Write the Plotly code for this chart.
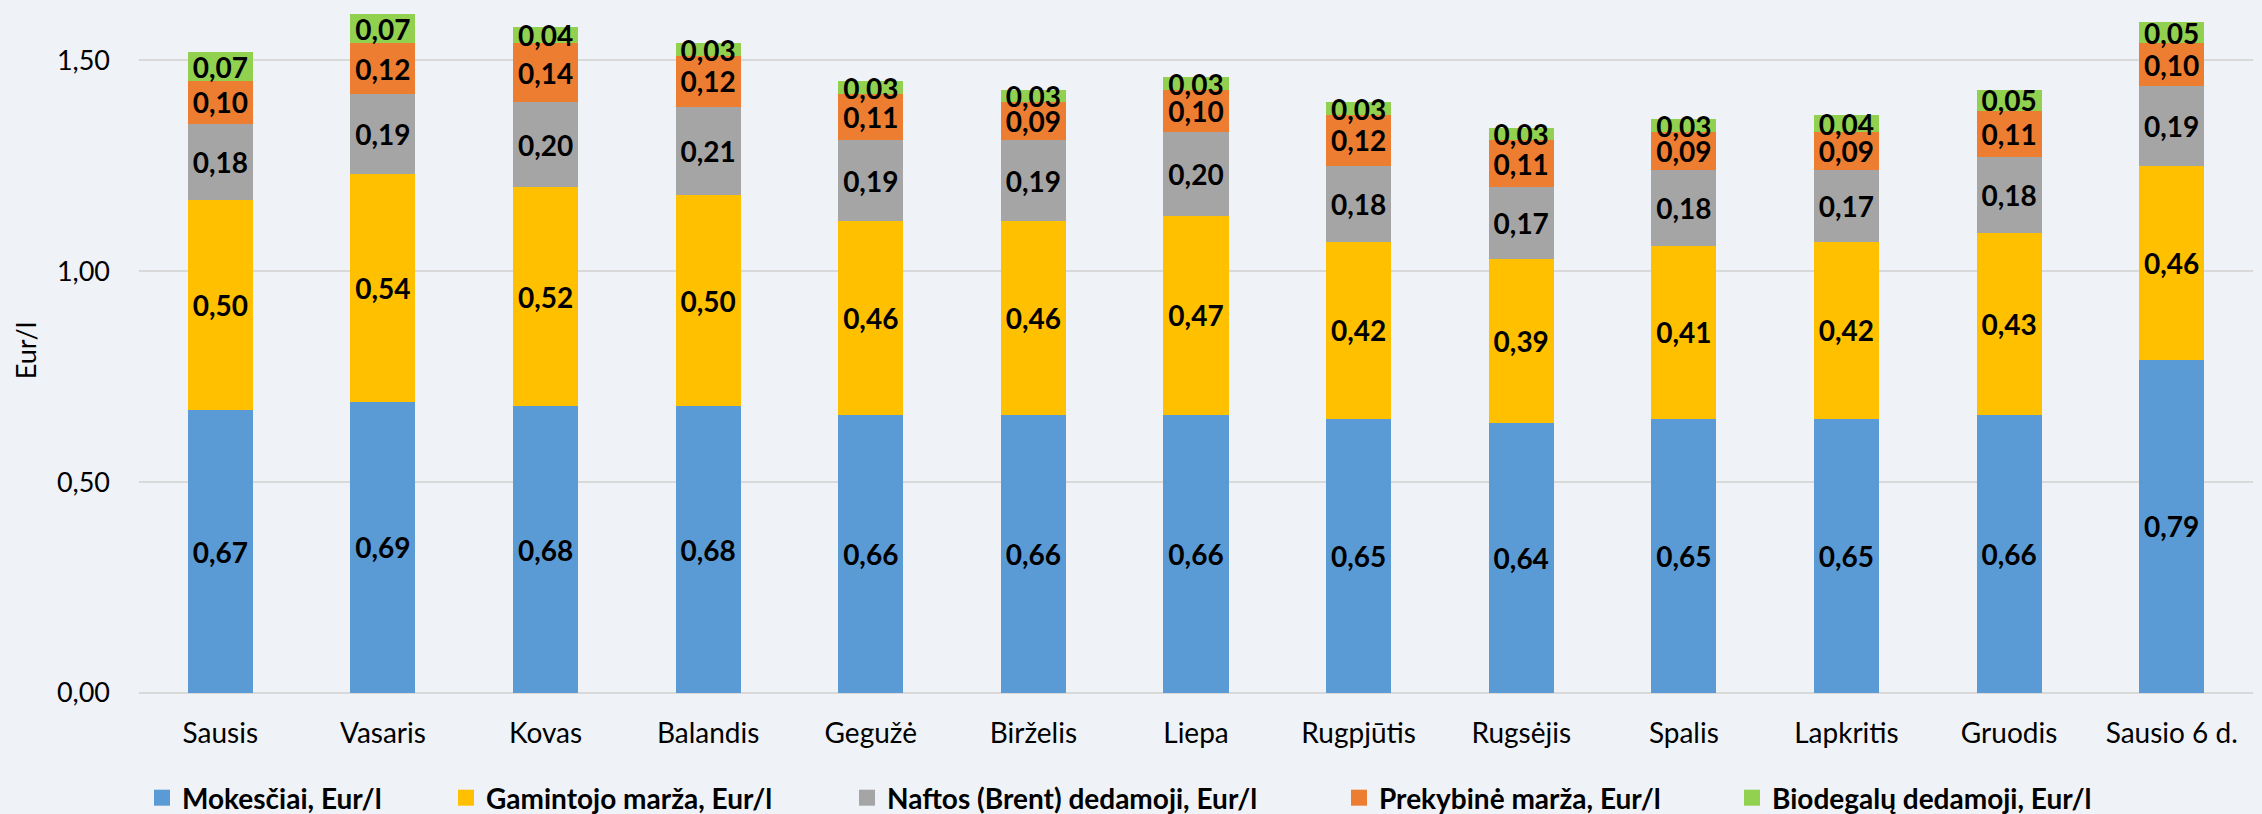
import plotly.graph_objects as go

categories = ["Sausis", "Vasaris", "Kovas", "Balandis", "Gegužė", "Birželis", "Liepa",
              "Rugpjūtis", "Rugsėjis", "Spalis", "Lapkritis", "Gruodis", "Sausio 6 d."]

mokesciai = [0.67, 0.69, 0.68, 0.68, 0.66, 0.66, 0.66, 0.65, 0.64, 0.65, 0.65, 0.66, 0.79]
gamintojo = [0.50, 0.54, 0.52, 0.50, 0.46, 0.46, 0.47, 0.42, 0.39, 0.41, 0.42, 0.43, 0.46]
naftos = [0.18, 0.19, 0.20, 0.21, 0.19, 0.19, 0.20, 0.18, 0.17, 0.18, 0.17, 0.18, 0.19]
prekybine = [0.10, 0.12, 0.14, 0.12, 0.11, 0.09, 0.10, 0.12, 0.11, 0.09, 0.09, 0.11, 0.10]
biodegalu = [0.07, 0.07, 0.04, 0.03, 0.03, 0.03, 0.03, 0.03, 0.03, 0.03, 0.04, 0.05, 0.05]

series_names = ["Mokesčiai, Eur/l", "Gamintojo marža, Eur/l", "Naftos (Brent) dedamoji, Eur/l",
                "Prekybinė marža, Eur/l", "Biodegalų dedamoji, Eur/l"]
series_values = [mokesciai, gamintojo, naftos, prekybine, biodegalu]
colors = ["#5B9BD5", "#FFC000", "#A5A5A5", "#ED7D31", "#92D050"]

W, H = 2262, 814
FONT = "Lato, 'Open Sans', sans-serif"
BG = "#EFF3F7"

# legend item start positions (px from left)
legend_x_px = [142, 446, 847, 1339, 1732]
legend_ids = ["legend", "legend2", "legend3", "legend4", "legend5"]

fig = go.Figure()
for name, vals, col in zip(series_names, series_values, colors):
    fig.add_trace(go.Bar(
        x=categories, y=vals, name=name,
        marker=dict(color=col, line=dict(width=0)),
        texttemplate="%{y:.2f}",
        textposition="inside",
        insidetextanchor="middle",
        constraintext="none",
        textangle=0,
        textfont=dict(family=FONT, size=28, color="black", weight="bold"),
        showlegend=False,
        hoverinfo="skip",
    ))

# legend keys (square swatches), one legend per series so they sit where the reference puts them
for name, col, lid in zip(series_names, colors, legend_ids):
    fig.add_trace(go.Scatter(
        x=[None], y=[None], name=name, mode="markers",
        marker=dict(symbol="square", size=17, color=col, line=dict(width=0)),
        legend=lid, showlegend=True, hoverinfo="skip",
    ))

legend_common = dict(
    orientation="h",
    xref="container", yref="container",
    yanchor="middle", y=16 / H,
    xanchor="left",
    font=dict(family=FONT, size=28, color="black", weight="bold"),
    bgcolor="rgba(0,0,0,0)",
    borderwidth=0,
)

layout_legends = {}
for lid, px in zip(legend_ids, legend_x_px):
    layout_legends[lid] = dict(legend_common, x=px / W)

fig.update_layout(
    width=W, height=H,
    barmode="stack",
    bargap=0.6,
    separators=", ",
    paper_bgcolor=BG,
    plot_bgcolor=BG,
    margin=dict(l=139, r=9, t=8, b=121, autoexpand=False),
    font=dict(family=FONT, size=27, color="black"),
    showlegend=True,
    xaxis=dict(
        type="category",
        categoryorder="array",
        categoryarray=categories,
        showgrid=False,
        showline=False,
        zeroline=False,
        ticks="",
        tickfont=dict(family=FONT, size=28, color="black"),
        ticklabelstandoff=21,
        automargin=False,
    ),
    yaxis=dict(
        range=[0, 1.624],
        dtick=0.5,
        tick0=0,
        tickformat=".2f",
        showgrid=True,
        gridcolor="#D9D9D9",
        gridwidth=2,
        zeroline=True,
        zerolinecolor="#D9D9D9",
        zerolinewidth=2,
        showline=False,
        ticks="",
        tickfont=dict(family=FONT, size=27, color="black"),
        ticklabelstandoff=28,
        title=dict(text="Eur/l", font=dict(family=FONT, size=27, color="black"), standoff=12),
        automargin=False,
    ),
    **layout_legends,
)

fig.write_html(
    "out.html",
    config={"displayModeBar": False},
    post_script="document.body.style.margin='0';document.body.style.overflow='hidden';"
                "document.body.style.background='" + BG + "';",
)
